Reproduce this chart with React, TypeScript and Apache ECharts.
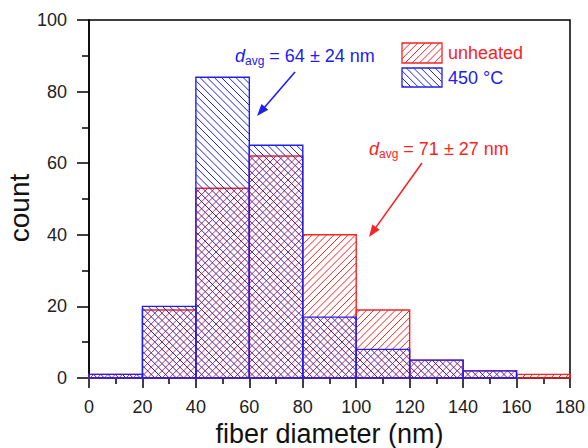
import React, { useEffect, useRef } from "react";
import * as echarts from "echarts";

const BIN_START = [0, 20, 40, 60, 80, 100, 120, 140, 160];
const BIN_WIDTH = 20;
const UNHEATED = [1, 19, 53, 62, 40, 19, 5, 2, 1];
const HEATED_450 = [1, 20, 84, 65, 17, 8, 5, 2, 0];
const X_TICKS = [0, 20, 40, 60, 80, 100, 120, 140, 160, 180];
const Y_TICKS = [0, 20, 40, 60, 80, 100];
const SERIES_NAMES = ["unheated", "450 °C"];
const X_TITLE = "fiber diameter (nm)";
const Y_TITLE = "count";

const RED = "#f52525";
const BLUE = "#2020ee";
const PERIOD = 7.2;
const FONT = "'Liberation Sans', Arial, sans-serif";

type Seg = { x1: number; y1: number; x2: number; y2: number };

function hatch(x0: number, y0: number, x1: number, y1: number, dir: 1 | -1, p: number): Seg[] {
  const segs: Seg[] = [];
  if (dir === 1) {
    const cMin = x0 + y0, cMax = x1 + y1;
    for (let k = Math.ceil(cMin / p); k * p <= cMax; k++) {
      const c = k * p;
      const ya = Math.max(y0, c - x1);
      const yb = Math.min(y1, c - x0);
      if (yb - ya > 0.3) segs.push({ x1: c - ya, y1: ya, x2: c - yb, y2: yb });
    }
  } else {
    const cMin = x0 - y1, cMax = x1 - y0;
    for (let k = Math.ceil(cMin / p); k * p <= cMax; k++) {
      const c = k * p;
      const ya = Math.max(y0, x0 - c);
      const yb = Math.min(y1, x1 - c);
      if (yb - ya > 0.3) segs.push({ x1: c + ya, y1: ya, x2: c + yb, y2: yb });
    }
  }
  return segs;
}

function hatchedBox(x0: number, y0: number, x1: number, y1: number, color: string, dir: 1 | -1, lw: number) {
  const children: any[] = hatch(x0, y0, x1, y1, dir, PERIOD).map((s) => ({
    type: "line",
    shape: s,
    style: { stroke: color, lineWidth: 1 },
  }));
  children.push({
    type: "rect",
    shape: { x: x0, y: y0, width: x1 - x0, height: y1 - y0 },
    style: { fill: "none", stroke: color, lineWidth: lw },
  });
  return children;
}

function makeRender(color: string, dir: 1 | -1) {
  return (_params: any, api: any) => {
    const p0 = api.coord([api.value(0), api.value(2)]);
    const p1 = api.coord([api.value(1), 0]);
    return {
      type: "group",
      children: hatchedBox(p0[0], p0[1], p1[0], p1[1], color, dir, 1.4),
    };
  };
}

function arrow(xa: number, ya: number, xb: number, yb: number, color: string) {
  const ang = Math.atan2(yb - ya, xb - xa);
  const L = 12, W = 4.5;
  const c = Math.cos(ang), s = Math.sin(ang);
  const bx = xb - L * c, by = yb - L * s;
  return [
    { type: "line", shape: { x1: xa, y1: ya, x2: bx + 2 * c, y2: by + 2 * s }, style: { stroke: color, lineWidth: 1.6 } },
    {
      type: "polygon",
      shape: { points: [[xb, yb], [bx + W * s, by - W * c], [bx - W * s, by + W * c]] },
      style: { fill: color },
    },
  ];
}

function davgText(x: number, y: number, body: string, color: string) {
  return {
    type: "text",
    x,
    y,
    style: {
      text: `{d|d}{s|avg}{t| = ${body}}`,
      fill: color,
      verticalAlign: "middle",
      rich: {
        d: { fontStyle: "italic", fontSize: 18, fontFamily: FONT, fill: color, lineHeight: 22, verticalAlign: "middle" },
        s: { fontSize: 12, fontFamily: FONT, fill: color, lineHeight: 12, verticalAlign: "bottom" },
        t: { fontSize: 18, fontFamily: FONT, fill: color, lineHeight: 22, verticalAlign: "middle" },
      },
    },
  };
}

export default function App() {
  const ref = useRef<HTMLDivElement>(null);
  useEffect(() => {
    if (!ref.current) return;
    const chart = echarts.init(ref.current, null, { renderer: "svg" });
    const redData = BIN_START.map((s, i) => [s, s + BIN_WIDTH, UNHEATED[i]]).filter((d) => d[2] > 0);
    const blueData = BIN_START.map((s, i) => [s, s + BIN_WIDTH, HEATED_450[i]]).filter((d) => d[2] > 0);

    const axisLine = { show: true, lineStyle: { color: "#000", width: 1.5 } };
    const graphics: any[] = [
      ...hatchedBox(402, 43, 442, 63, RED, 1, 1.3),
      ...hatchedBox(402, 68, 442, 87, BLUE, -1, 1.3),
      { type: "text", x: 448, y: 53, style: { text: SERIES_NAMES[0], fill: RED, fontSize: 18, fontFamily: FONT, verticalAlign: "middle" } },
      { type: "text", x: 448, y: 77.5, style: { text: SERIES_NAMES[1], fill: BLUE, fontSize: 18, fontFamily: FONT, verticalAlign: "middle" } },
      davgText(235, 56, "64 ± 24 nm", BLUE),
      davgText(369, 149, "71 ± 27 nm", RED),
      ...arrow(295, 72, 257, 116, BLUE),
      ...arrow(422, 163, 369, 237, RED),
      {
        type: "text",
        x: 19,
        y: 208,
        rotation: Math.PI / 2,
        style: { text: Y_TITLE, fill: "#111", fontSize: 28, fontFamily: FONT, align: "center", verticalAlign: "middle" },
      },
    ];

    chart.setOption({
      animation: false,
      backgroundColor: "#fff",
      grid: {
        left: 89, right: 18, top: 20, bottom: 70,
        containLabel: false, outerBoundsMode: "none",
        show: true, borderColor: "#000", borderWidth: 1.5, backgroundColor: "transparent",
      },
      xAxis: {
        type: "value",
        min: X_TICKS[0],
        max: X_TICKS[X_TICKS.length - 1],
        interval: 20,
        axisLine,
        axisTick: { show: true, length: 10, lineStyle: { color: "#000", width: 1.5 } },
        minorTick: { show: true, splitNumber: 2, length: 6, lineStyle: { color: "#000", width: 1.5 } },
        splitLine: { show: false },
        axisLabel: { fontSize: 18, color: "#222", fontFamily: FONT, margin: 20 },
        name: X_TITLE,
        nameLocation: "middle",
        nameGap: 33,
        nameTextStyle: { fontSize: 27, color: "#111", fontFamily: FONT, lineHeight: 27 },
      },
      yAxis: {
        type: "value",
        min: Y_TICKS[0],
        max: Y_TICKS[Y_TICKS.length - 1],
        interval: 20,
        axisLine,
        axisTick: { show: true, length: 12, lineStyle: { color: "#000", width: 1.5 } },
        minorTick: { show: true, splitNumber: 2, length: 7, lineStyle: { color: "#000", width: 1.5 } },
        splitLine: { show: false },
        axisLabel: { fontSize: 18, color: "#222", fontFamily: FONT, margin: 22 },
      },
      series: [
        {
          type: "custom",
          name: SERIES_NAMES[0],
          renderItem: makeRender(RED, 1),
          encode: { x: [0, 1], y: 2 },
          data: redData,
          z: 2,
        },
        {
          type: "custom",
          name: SERIES_NAMES[1],
          renderItem: makeRender(BLUE, -1),
          encode: { x: [0, 1], y: 2 },
          data: blueData,
          z: 3,
        },
      ],
      graphic: graphics,
    });
    return () => chart.dispose();
  }, []);
  return <div ref={ref} style={{ position: "fixed", left: 0, top: 0, width: 588, height: 448, background: "#fff" }} />;
}
